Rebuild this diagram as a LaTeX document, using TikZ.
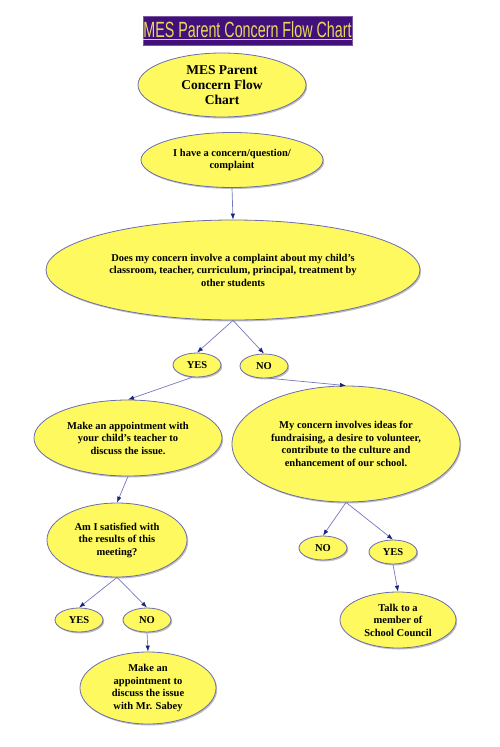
\documentclass[tikz,border=0pt]{standalone}
\usepackage{fontspec}
\setmainfont{Liberation Serif}
\newfontfamily\bannerfont[FakeStretch=0.65]{Liberation Sans}
\usepackage{xcolor}
\usetikzlibrary{positioning, arrows.meta, shapes.geometric, shadows}
\definecolor{BannerPurple}{HTML}{42107A}
\definecolor{BannerGold}{HTML}{E9D85C}
\definecolor{BubbleYellow}{HTML}{FDF95E}
\definecolor{EdgeBlue}{HTML}{6C6CB0}
\definecolor{LinkBlue}{HTML}{7676BE}
\definecolor{TipNavy}{HTML}{1B2580}

\begin{document}
\begin{tikzpicture}[
  x=1pt, y=-1pt,
  link/.style={-{Latex[length=6pt, width=4.5pt, color=TipNavy]}, line width=0.7pt, color=LinkBlue},
  bubble/.style={ellipse, draw=EdgeBlue, line width=0.8pt, fill=BubbleYellow, inner sep=0pt,
                 align=center, font=\bfseries\fontsize{10.5}{12.5}\selectfont,
                 drop shadow={shadow xshift=1.2pt, shadow yshift=-1.5pt, opacity=0.25, fill=black}},
  answer/.style={bubble, minimum width=48pt, minimum height=24pt},
]
  \useasboundingbox (0,0) rectangle (500,747);

% ===== Banner =====
  \node[fill=BannerPurple, draw=BannerPurple!70, minimum width=209pt, minimum height=29pt,
        inner sep=0pt, text=BannerGold, font=\bannerfont\fontsize{22}{22}\selectfont]
    (banner) at (247.5,30.5) {\underline{MES Parent Concern Flow Chart}};

% ===== Start =====
  \node[bubble, minimum width=168pt, minimum height=64pt, font=\bfseries\fontsize{13.5}{15}\selectfont]
    (title) at (222,85) {MES Parent\\Concern Flow\\Chart};
  \node[bubble, minimum width=182pt, minimum height=55pt]
    (concern) at (232,160) {I have a concern/question/\\complaint};
  \node[bubble, minimum width=374pt, minimum height=100pt]
    (complaint) at (233,270) {Does my concern involve a complaint about my child's\\classroom, teacher, curriculum, principal, treatment by\\other students};
  \node[answer] (yesA) at (197,365) {YES};
  \node[answer] (noA) at (264,366) {NO};

% ===== Left branch =====
  \node[bubble, minimum width=188pt, minimum height=76pt]
    (teacher) at (128,438) {Make an appointment with\\your child's teacher to\\discuss the issue.};
  \node[bubble, minimum width=140pt, minimum height=74pt]
    (satisfied) at (117,540) {Am I satisfied with\\the results of this\\meeting?};
  \node[answer] (yesC) at (79,620) {YES};
  \node[answer] (noC) at (147,620) {NO};
  \node[bubble, minimum width=136pt, minimum height=72pt]
    (sabey) at (148,688) {Make an\\appointment to\\discuss the issue\\with Mr. Sabey};

% ===== Right branch =====
  \node[bubble, minimum width=228pt, minimum height=116pt]
    (ideas) at (346,444) {My concern involves ideas for\\fundraising, a desire to volunteer,\\contribute to the culture and\\enhancement of our school.};
  \node[answer] (noB) at (323,548) {NO};
  \node[answer] (yesB) at (393,552) {YES};
  \node[bubble, minimum width=116pt, minimum height=56pt]
    (council) at (398,620) {Talk to a\\member of\\School Council};

% ===== Links =====
  \draw[link] (concern.south) -- (complaint.north);
  \draw[link] (complaint.south) -- (yesA.north);
  \draw[link] (complaint.south) -- (noA.north);
  \draw[link] (yesA.250) -- (teacher.north);
  \draw[link] (noA.290) -- (ideas.north);
  \draw[link] (teacher.south) -- (satisfied.north);
  \draw[link] (satisfied.south) -- (yesC.north);
  \draw[link] (satisfied.south) -- (noC.north);
  \draw[link] (noC.south) -- (sabey.north);
  \draw[link] (ideas.south) -- (noB.north);
  \draw[link] (ideas.south) -- (yesB.north);
  \draw[link] (yesB.south) -- (council.north);

\end{tikzpicture}
\end{document}
